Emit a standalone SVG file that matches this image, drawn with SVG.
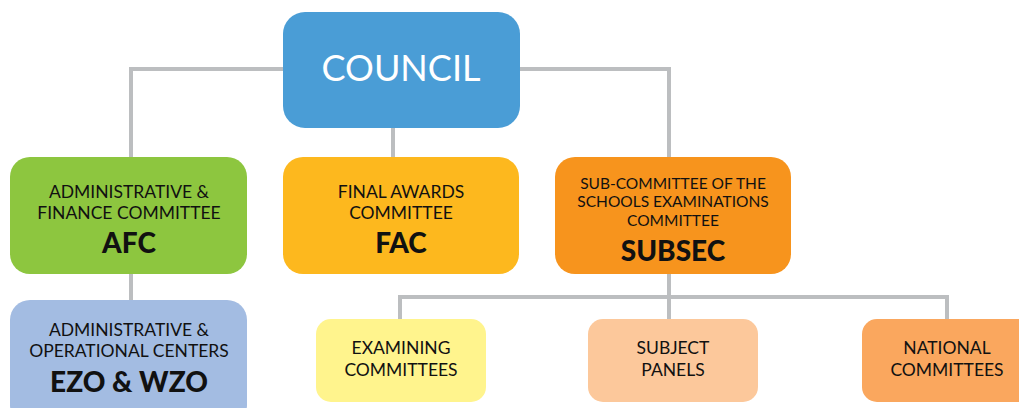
<svg xmlns="http://www.w3.org/2000/svg" width="1019" height="408" viewBox="0 0 1019 408">
<style>
.ln{fill:none;stroke:#BCBEC0;stroke-width:4}
.t{font-family:Lato,"Open Sans","Liberation Sans",sans-serif;font-size:17.5px;fill:#111;text-anchor:middle}
.s{font-size:15.5px}
.b{font-family:Lato,"Open Sans","Liberation Sans",sans-serif;font-size:28px;font-weight:900;fill:#111;text-anchor:middle}
</style>
<rect width="1019" height="408" fill="#fff"/>
<g id="connectors">
<path class="ln" d="M131,157 V69 H669 V157"/>
<path class="ln" d="M393,128 V157"/>
<path class="ln" d="M131,274 V300"/>
<path class="ln" d="M669,274 V319"/>
<path class="ln" d="M400,319 V297 H947 V319"/>
</g>
<g id="council">
<rect x="283" y="12" width="237" height="116" rx="22" fill="#4A9DD6"/>
<text x="401" y="81" font-family="Lato,'Open Sans','Liberation Sans',sans-serif" font-size="36" fill="#fff" text-anchor="middle">COUNCIL</text>
</g>
<g id="afc">
<rect x="10" y="157" width="237" height="117" rx="20" fill="#8DC63F"/>
<text class="t" x="129" y="198">ADMINISTRATIVE &amp;</text>
<text class="t" x="129" y="219">FINANCE COMMITTEE</text>
<text class="b" x="129" y="253">AFC</text>
</g>
<g id="fac">
<rect x="283" y="157" width="236" height="117" rx="20" fill="#FDB81E"/>
<text class="t" x="401" y="198">FINAL AWARDS</text>
<text class="t" x="401" y="219">COMMITTEE</text>
<text class="b" x="401" y="253">FAC</text>
</g>
<g id="subsec">
<rect x="555" y="157" width="236" height="117" rx="20" fill="#F7941D"/>
<text class="t s" x="673" y="189">SUB-COMMITTEE OF THE</text>
<text class="t s" x="673" y="207">SCHOOLS EXAMINATIONS</text>
<text class="t s" x="673" y="226">COMMITTEE</text>
<text class="b" x="673" y="261">SUBSEC</text>
</g>
<g id="ezo">
<rect x="10" y="300" width="237" height="125" rx="20" fill="#A3BCE2"/>
<text class="t" x="129" y="336">ADMINISTRATIVE &amp;</text>
<text class="t" x="129" y="357">OPERATIONAL CENTERS</text>
<text class="b" x="129" y="392">EZO &amp; WZO</text>
</g>
<g id="examining">
<rect x="316" y="319" width="170" height="83" rx="15" fill="#FFF48D"/>
<text class="t" x="401" y="354">EXAMINING</text>
<text class="t" x="401" y="375.5">COMMITTEES</text>
</g>
<g id="subject">
<rect x="588" y="319" width="170" height="83" rx="15" fill="#FCC89B"/>
<text class="t" x="673" y="354">SUBJECT</text>
<text class="t" x="673" y="375.5">PANELS</text>
</g>
<g id="national">
<rect x="862" y="319" width="170" height="83" rx="15" fill="#FAA75E"/>
<text class="t" x="947" y="354">NATIONAL</text>
<text class="t" x="947" y="375.5">COMMITTEES</text>
</g>
</svg>
